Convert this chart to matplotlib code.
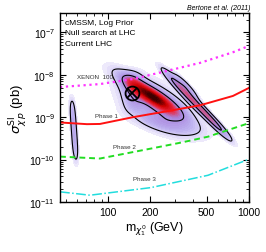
import numpy as np
import matplotlib.pyplot as plt
from matplotlib.colors import LinearSegmentedColormap
from matplotlib.ticker import FixedLocator, NullFormatter, LogLocator

plt.rcParams['font.family'] = ['Liberation Sans', 'DejaVu Sans']
plt.rcParams['mathtext.fontset'] = 'dejavusans'

# limit / sensitivity curves (mass in GeV, log10 sigma in pb)
xenon_m = [45.7, 87.7, 150.6, 262, 450, 769, 1000]
xenon_s = [-8.29, -8.22, -8.10, -7.91, -7.72, -7.47, -7.32]
phase1_m = [45.7, 71, 87.7, 150.6, 262, 450, 769, 1000]
phase1_s = [-9.125, -9.165, -9.16, -9.00, -8.86, -8.72, -8.50, -8.31]
phase2_m = [45.7, 87.7, 202, 340, 512, 1000]
phase2_s = [-9.93, -9.975, -9.74, -9.59, -9.46, -9.14]
phase3_m = [45.7, 74.5, 202, 512, 1000]
phase3_s = [-10.76, -10.84, -10.66, -10.37, -9.99]

# posterior pieces: centre mass (GeV), centre log10 sigma, weight,
# long / short width, tilt (screen units) and flatness along the long side
blob_m = [205, 225, 150, 254, 425, 355, 57.4]
blob_s = [-8.504, -8.72, -8.39, -9.142, -8.70, -8.26, -9.307]
blob_w = [1.0, 0.3, 0.22, 0.22, 0.6, 0.28, 0.3]
blob_a = [22, 26, 16, 22, 38, 11, 25.5]
blob_b = [5, 12, 7, 6, 2.4, 2.2, 2]
blob_t = [33, 30, 82, 15, 46, 46, 86]
blob_p = [1, 1, 2, 1, 2, 1, 2]

best_m, best_s = 148, -8.42

# pixel-like scale of the axes (px per decade)
kx, ky = 141.0, 42.35

def to_px(lm, ls):
    return lm * kx, -ls * ky

lm = np.linspace(np.log10(45.7), 3, 500)
ls = np.linspace(-11, -6.545, 500)
LM, LS = np.meshgrid(lm, ls)
PX, PY = to_px(LM, LS)
dens = np.zeros_like(LM)
for m, s, w, a, b, t, p in zip(blob_m, blob_s, blob_w, blob_a, blob_b, blob_t, blob_p):
    cx, cy = to_px(np.log10(m), s)
    th = np.radians(t)
    dx, dy = PX - cx, PY - cy
    u = dx * np.cos(th) + dy * np.sin(th)
    v = -dx * np.sin(th) + dy * np.cos(th)
    dens += w * np.exp(-0.5 * ((u / a)**2)**p - 0.5 * (v / b)**2)
top = dens.max()

cmap = LinearSegmentedColormap.from_list('post', [
    (0.0, (1, 1, 1)),
    (0.06, (0.90, 0.88, 0.98)),
    (0.2, (0.74, 0.69, 0.94)),
    (0.4, (0.66, 0.52, 0.86)),
    (0.6, (0.92, 0.15, 0.25)),
    (0.82, (0.8, 0.0, 0.0)),
    (1.0, (0.2, 0.0, 0.0))])

fig = plt.figure(figsize=(2.66, 2.53), dpi=100)
ax = fig.add_axes([0.2256, 0.1976, 0.7105, 0.747])

ax.contourf(10**LM, 10**LS, dens, levels=np.linspace(0.04, top, 40),
            cmap=cmap, vmin=0, vmax=top)
ax.contour(10**LM, 10**LS, dens, levels=[0.13, 0.42], colors='k', linewidths=0.8)

ax.plot(xenon_m, 10**np.array(xenon_s), ':', color='#ff33ff', lw=1.6)
ax.plot(phase1_m, 10**np.array(phase1_s), '-', color='#ff1111', lw=1.4)
ax.plot(phase2_m, 10**np.array(phase2_s), '--', color='#22dd22', lw=1.4, dashes=(3, 2))
ax.plot(phase3_m, 10**np.array(phase3_s), '-.', color='#22dddd', lw=1.1)

ax.plot(best_m, 10**best_s, 'o', ms=10, mfc='none', mec='k', mew=1.3)
ax.plot(best_m, 10**best_s, 'x', ms=7, mec='k', mew=1.3)

ax.text(60, 10**-8.03, 'XENON  100', fontsize=4.5, color='#333333', va='center')
ax.text(81, 10**-8.97, 'Phase 1', fontsize=4.5, color='#333333', va='center')
ax.text(108, 10**-9.68, 'Phase 2', fontsize=4.5, color='#333333', va='center')
ax.text(150, 10**-10.45, 'Phase 3', fontsize=4.5, color='#333333', va='center')

for y, t in zip([0.951, 0.897, 0.840], ['cMSSM, Log Prior', 'Null search at LHC', 'Current LHC']):
    ax.text(0.026, y, t, transform=ax.transAxes, fontsize=6, va='center')

ax.set_xscale('log')
ax.set_yscale('log')
ax.set_xlim(45.7, 1000)
ax.set_ylim(1e-11, 10**-6.545)
ax.xaxis.set_major_locator(FixedLocator([100, 200, 500, 1000]))
ax.xaxis.set_minor_locator(FixedLocator([50, 60, 70, 80, 90, 300, 400, 600, 700, 800, 900]))
ax.xaxis.set_minor_formatter(NullFormatter())
ax.set_xticklabels(['100', '200', '500', '1000'])
ax.yaxis.set_major_locator(LogLocator(base=10, numticks=10))
ax.yaxis.set_minor_locator(LogLocator(base=10, subs=np.arange(2, 10), numticks=10))
ax.yaxis.set_minor_formatter(NullFormatter())
ax.tick_params(which='both', direction='in', top=True, right=True, labelsize=7.5)
ax.tick_params(which='major', length=4, width=0.8)
ax.tick_params(which='minor', length=2, width=0.6)
for sp in ax.spines.values():
    sp.set_linewidth(1.0)

ax.set_xlabel(r'm$_{\chi^0_1}$ (GeV)', fontsize=9, labelpad=2)
ax.set_ylabel(r'$\sigma^{\rm SI}_{\chi\,p}$ (pb)', fontsize=9.5, labelpad=0)
fig.text(0.94, 0.965, 'Bertone et al. (2011)', fontsize=5, style='italic',
         ha='right', va='center')

fig.savefig('out.png', dpi=100)
